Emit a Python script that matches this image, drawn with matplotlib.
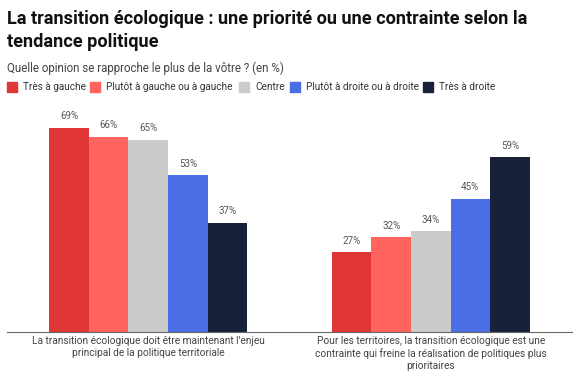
import matplotlib
matplotlib.use("Agg")
import matplotlib.pyplot as plt
from matplotlib.patches import Rectangle

plt.rcParams['font.family'] = ['Roboto', 'DejaVu Sans']

categories = [
    "La transition écologique doit être maintenant l'enjeu\nprincipal de la politique territoriale",
    "Pour les territoires, la transition écologique est une\ncontrainte qui freine la réalisation de politiques plus\nprioritaires",
]
series = ["Très à gauche", "Plutôt à gauche ou à gauche", "Centre",
          "Plutôt à droite ou à droite", "Très à droite"]
values = [
    [69, 27],
    [66, 32],
    [65, 34],
    [53, 45],
    [37, 59],
]
colors = ["#E03636", "#FF645E", "#CBCBCB", "#4A6EE6", "#17223A"]

fig = plt.figure(figsize=(5.76, 3.74), dpi=100)
ax = fig.add_axes([7 / 576, 42 / 374, 565 / 576, 232 / 374])

w = 0.14
for i, (name, vals) in enumerate(zip(series, values)):
    offs = (i - 2) * w
    xs = [k + offs for k in range(len(categories))]
    ax.bar(xs, vals, width=w, color=colors[i], label=name)
    for x, v in zip(xs, vals):
        ax.text(x, v + 2.2, f"{v}%", ha='center', va='bottom',
                fontsize=7, color='#555555')

ax.set_xlim(-0.5, 1.5)
ax.set_ylim(0, 78.4)
ax.set_yticks([])
ax.set_xticks([0, 1])
ax.set_xticklabels(categories, fontsize=7.3, color='#444444', linespacing=1.22)
ax.tick_params(axis='x', length=0, pad=3)
for s in ['top', 'right', 'left']:
    ax.spines[s].set_visible(False)
ax.spines['bottom'].set_color('#666666')
ax.spines['bottom'].set_linewidth(0.8)

fig.text(7 / 576, 1 - 10 / 374,
         "La transition écologique : une priorité ou une contrainte selon la\ntendance politique",
         ha='left', va='top', fontsize=13.1, fontweight='bold', color='#111111',
         linespacing=1.36)
fig.text(7 / 576, 1 - 68 / 374, "Quelle opinion se rapproche le plus de la vôtre ? (en %)",
         ha='left', va='center', fontsize=8.3, color='#444444')

# légende
legend_x = [7, 90, 239, 290, 423]
for i, name in enumerate(series):
    lx = legend_x[i]
    fig.patches.append(Rectangle((lx / 576, 1 - 92 / 374), 10 / 576, 10 / 374,
                                 transform=fig.transFigure, color=colors[i]))
    fig.text((lx + 16) / 576, 1 - 87 / 374, name, ha='left', va='center',
             fontsize=7.2, color='#333333')

fig.savefig("out.png", dpi=100)
